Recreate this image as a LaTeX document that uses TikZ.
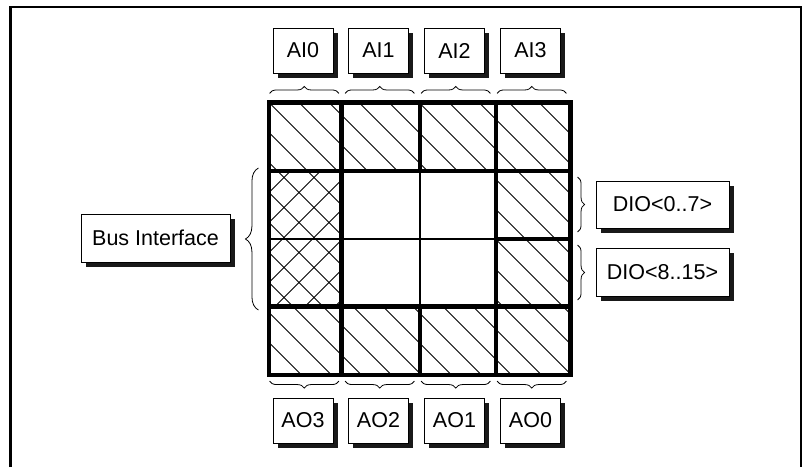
\documentclass[tikz,border=0pt]{standalone}
\usepackage{fontspec}
\setmainfont{Liberation Sans}
\usetikzlibrary{calc, decorations.pathreplacing, shadows}
\tikzset{>=stealth}
\tikzset{
    label box/.style={draw, fill=white, line width=0.9pt, inner sep=0pt,
        font=\fontsize{21.5}{25}\selectfont,
        drop shadow={shadow xshift=4.5pt, shadow yshift=-4.5pt, fill=black!90, opacity=1}},
    thick grid/.style={line width=4.3pt},
    thin grid/.style={line width=1.4pt},
    hatch/.style={line width=0.9pt},
    brace/.style={decorate, decoration={brace, amplitude=#1}, line width=0.8pt},
    brace mirror/.style={decorate, decoration={brace, mirror, amplitude=#1}, line width=0.8pt}
}

\begin{document}
\begin{tikzpicture}[x=1pt, y=-1pt]
    \useasboundingbox (0,0) rectangle (802,467);
    \draw [line width=2.5pt] (10.5,467) -- (10.5,7) -- (801,7) -- (801,467);

    \begin{scope}
        \clip (269,102.5) rectangle (570.5,171) (269,306.5) rectangle (570.5,375)
              (496,171) rectangle (570.5,306.5) (269,171) rectangle (341.5,306.5);
        \foreach \c in {-133.5,-103.5,...,500}
            \draw [hatch] (\c+90,90) -- (\c+390,390);
    \end{scope}
    \begin{scope}
        \clip (269,171) rectangle (341.5,306.5);
        \foreach \d in {431.5,461.5,...,680}
            \draw [hatch] (\d-160,160) -- (\d-320,320);
    \end{scope}

    \draw [thin grid] (420,171) -- (420,306.5);
    \draw [thin grid] (269,239) -- (496,239);
    \foreach \xa/\xb in {269/341.5, 341.5/420, 420/496, 496/570.5} {
        \draw [thick grid] (\xa,102.5) rectangle (\xb,171);
        \draw [thick grid] (\xa,306.5) rectangle (\xb,375);
    }
    \draw [thick grid] (269,171) rectangle (341.5,306.5);
    \draw [thick grid] (496,171) rectangle (570.5,239);
    \draw [thick grid] (496,239) rectangle (570.5,306.5);

    \foreach \n/\x/\t in {ai0/303/AI0, ai1/378.5/AI1, ai2/454.5/AI2, ai3/530.5/AI3} {
        \node [label box, minimum width=60pt, minimum height=45pt] (\n) at (\x,50.5) {\t};
        \draw [brace=7pt] ($(\n.south west)+(-3,20)$) -- ($(\n.south east)+(5.5,20)$);
    }
    \foreach \n/\x/\t in {ao3/303/AO3, ao2/378.5/AO2, ao1/454.5/AO1, ao0/530.5/AO0} {
        \node [label box, minimum width=60pt, minimum height=45pt] (\n) at (\x,420.5) {\t};
        \draw [brace mirror=7pt] ($(\n.north west)+(-3,-16.5)$) -- ($(\n.north east)+(5.5,-16.5)$);
    }

    \node [label box, minimum width=149pt, minimum height=48pt] (bus) at (155.5,238) {Bus Interface};
    \draw [brace=13pt] ($(bus.east)+(28,72)$) -- ($(bus.east)+(28,-70)$);

    \node [label box, minimum width=133pt, minimum height=47pt] (dio07) at (662.5,204.5) {DIO<0..7>};
    \node [label box, minimum width=133pt, minimum height=48pt] (dio815) at (662.5,272.5) {DIO<8..15>};
    \draw [brace=7pt] ($(dio07.west)+(-18,-27.5)$) -- ($(dio07.west)+(-18,27.5)$);
    \draw [brace=7pt] ($(dio815.west)+(-18,-27.5)$) -- ($(dio815.west)+(-18,27.5)$);
\end{tikzpicture}
\end{document}
